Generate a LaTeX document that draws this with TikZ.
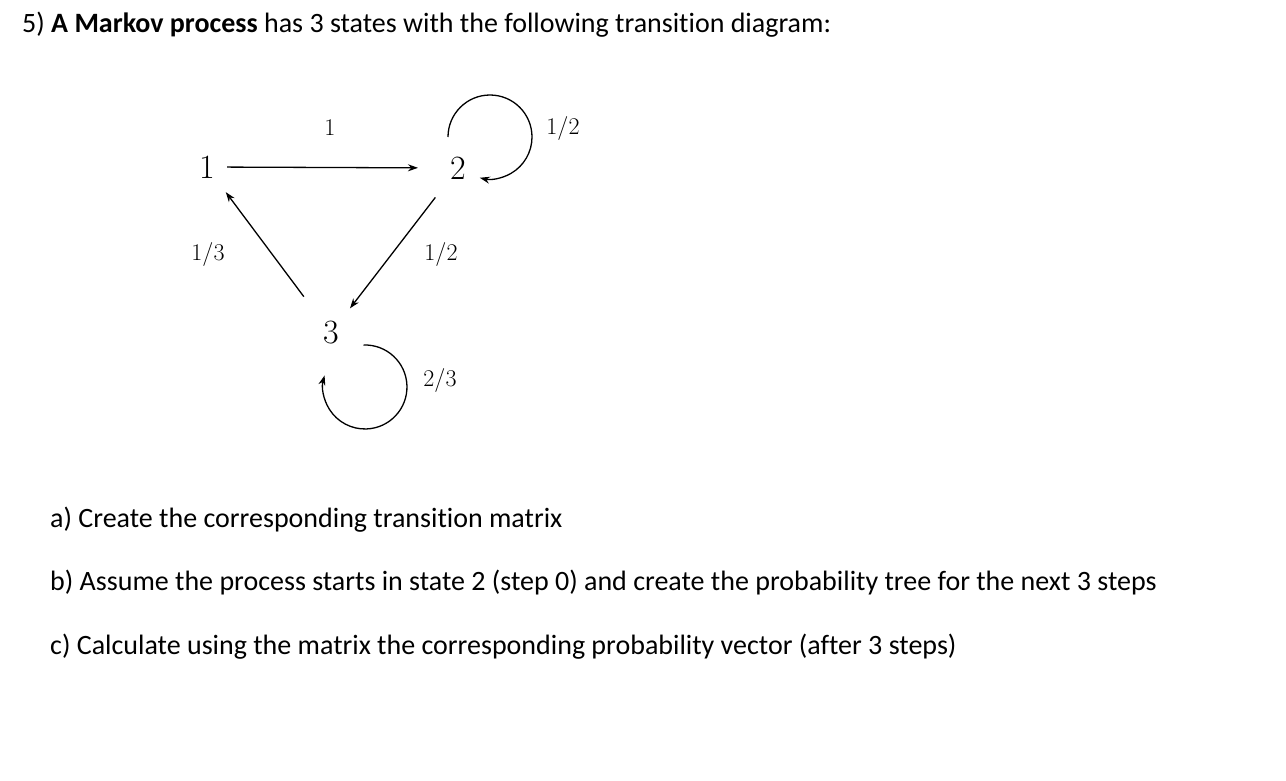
\documentclass[tikz,border=0pt]{standalone}
\usepackage{fontspec}
\newfontfamily\carlito[Ligatures=NoCommon]{Carlito}
\usetikzlibrary{arrows.meta}
\tikzset{
  txt/.style={anchor=base west, inner sep=0pt, font=\carlito\fontsize{28}{32}\selectfont},
  state/.style={inner sep=0pt, font=\fontsize{34}{34}\selectfont},
  prob/.style={inner sep=0pt, font=\fontsize{24}{24}\selectfont},
  trans/.style={line width=1.3pt, -{Stealth[length=10pt,width=7pt]}}
}
\begin{document}
\begin{tikzpicture}[x=1pt,y=1pt]
\useasboundingbox (0,0) rectangle (1286,-780);
\node[txt] (title) at (22,-32) {5) \textbf{A Markov process} has 3 states with the following transition diagram:};
\node[state] (n1) at (207,-167) {1};
\node[state] (n2) at (458,-168) {2};
\node[state] (n3) at (331,-333) {3};
\draw[trans, shorten <=12pt, shorten >=32pt] (n1) -- (n2);
\draw[trans, shorten <=24pt, shorten >=18pt] (n2) -- (n3);
\draw[trans, shorten <=32pt, shorten >=18pt] (n3) -- (n1);
\draw[trans] (n2) ++(-10,31) arc[start angle=180, end angle=-104, radius=42];
\draw[trans] (n3) ++(32.5,-12) arc[start angle=92, end angle=-196, radius=42];
\node[prob] (l12) at (330,-128) {1};
\node[prob] (l22) at (563,-128) {1/2};
\node[prob] (l31) at (208,-254) {1/3};
\node[prob] (l23) at (441,-254) {1/2};
\node[prob] (l33) at (440,-380) {2/3};
\node[txt] (qa) at (50,-527) {a) Create the corresponding transition matrix};
\node[txt] (qb) at (50,-590) {b) Assume the process starts in state 2 (step 0) and create the probability tree for the next 3 steps};
\node[txt] (qc) at (50,-654) {c) Calculate using the matrix the corresponding probability vector (after 3 steps)};
\end{tikzpicture}
\end{document}
